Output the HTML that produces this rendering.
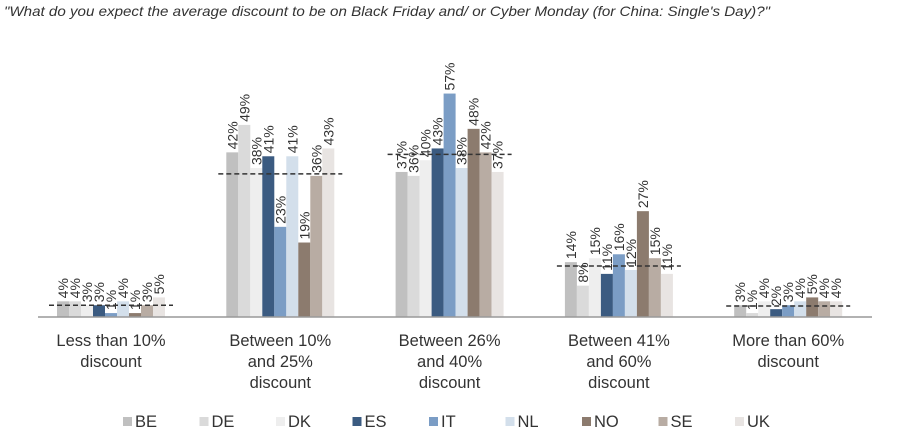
<!DOCTYPE html>
<html><head><meta charset="utf-8"><style>
body{margin:0;background:#fff;width:900px;height:434px;overflow:hidden;font-family:"Liberation Sans",Arial,sans-serif}
</style></head><body>
<svg id="chart" width="900" height="434" xmlns="http://www.w3.org/2000/svg">
<text x="4" y="16" font-size="14" font-style="italic" fill="#333" textLength="766" lengthAdjust="spacingAndGlyphs">"What do you expect the average discount to be on Black Friday and/ or Cyber Monday (for China: Single's Day)?"</text>
<g id="bars"></g>
<line x1="38" y1="317" x2="872" y2="317" stroke="#999" stroke-width="1.5"/>
<g id="labels"></g>
<g id="legend"></g>
</svg>
<script>
const categories=[["Less than 10%","discount"],["Between 10%","and 25%","discount"],["Between 26%","and 40%","discount"],["Between 41%","and 60%","discount"],["More than 60%","discount"]];
const countries=["BE","DE","DK","ES","IT","NL","NO","SE","UK"];
const colors=["#c0c0c0","#dadada","#eeeeee","#3b5b81","#7b9dc5","#d3dfeb","#8c7b6e","#b8aca3","#e8e4e2"];
const BE=[4,42,37,14,3];
const DE=[4,49,36,8,1];
const DK=[3,38,40,15,4];
const ES=[3,41,43,11,2];
const IT=[1,23,57,16,3];
const NL=[4,41,38,12,4];
const NO=[1,19,48,27,5];
const SE=[3,36,42,15,4];
const UK=[5,43,37,11,4];
const averages=[3,36.5,41.5,13,2.8];
const series=[BE,DE,DK,ES,IT,NL,NO,SE,UK];
const NS="http://www.w3.org/2000/svg";
const base=317,scale=3.92,bw=12;
const cx=i=>111+i*169.3;
const y=v=>base-v*scale;
const bars=document.getElementById('bars'),labels=document.getElementById('labels'),legend=document.getElementById('legend');
categories.forEach((cat,i)=>{
  const x0=cx(i)-bw*4.5;
  series.forEach((s,j)=>{
    const r=document.createElementNS(NS,'rect');
    
    
    const x=x0+j*bw;
    r.setAttribute('x',x);r.setAttribute('y',y(s[i]));r.setAttribute('width',bw);r.setAttribute('height',s[i]*scale);r.setAttribute('fill',colors[j]);
    bars.appendChild(r);
    const t=document.createElementNS(NS,'text');
    
    
    const tx=x+bw/2+5,ty=y(s[i])-3;
    t.setAttribute('transform','translate('+tx+','+ty+') rotate(-90)');
    t.setAttribute('font-size','14');t.setAttribute('fill','#333');
    t.textContent=s[i]+'%';
    bars.appendChild(t);
  });
  const l=document.createElementNS(NS,'line');
  
  
  l.setAttribute('x1',x0-8);l.setAttribute('x2',x0+9*bw+8);l.setAttribute('y1',y(averages[i]));l.setAttribute('y2',y(averages[i]));
  l.setAttribute('stroke','#333');l.setAttribute('stroke-width','1.5');l.setAttribute('stroke-dasharray','5,3');
  bars.appendChild(l);
  cat.forEach((line,k)=>{
    const t=document.createElementNS(NS,'text');
    
    
    t.setAttribute('x',cx(i));t.setAttribute('y',346+k*21);t.setAttribute('text-anchor','middle');t.setAttribute('font-size','16.5');t.setAttribute('fill','#333');
    t.textContent=line;labels.appendChild(t);
  });
});
countries.forEach((c,j)=>{
  const g=document.createElementNS(NS,'g');
  
  
  const x=123+j*76.5;
  const r=document.createElementNS(NS,'rect');
  r.setAttribute('x',x);r.setAttribute('y',417);r.setAttribute('width',9);r.setAttribute('height',9);r.setAttribute('fill',colors[j]);
  g.appendChild(r);
  const t=document.createElementNS(NS,'text');
  t.setAttribute('x',x+12);t.setAttribute('y',427);t.setAttribute('font-size','16.5');t.setAttribute('fill','#333');
  t.textContent=c;g.appendChild(t);
  legend.appendChild(g);
});
</script>
</body></html>
